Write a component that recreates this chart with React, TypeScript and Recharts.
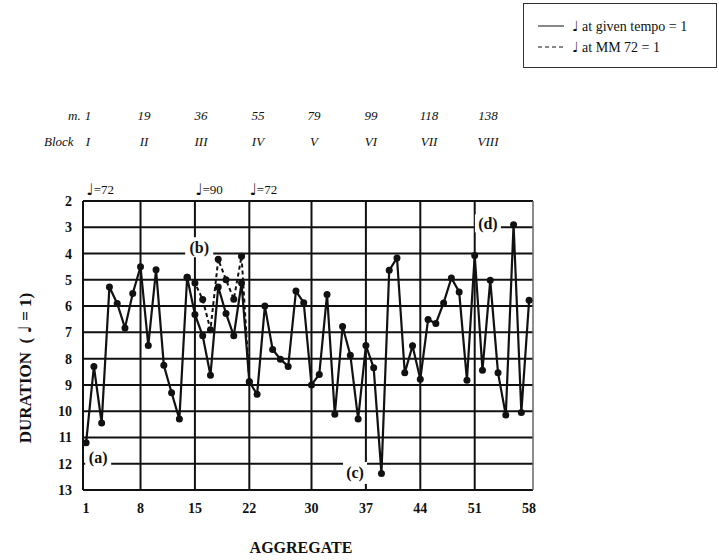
import { LineChart, Line, XAxis, YAxis, CartesianGrid, ReferenceLine, ReferenceDot } from 'recharts'

// duration of each aggregate, quarter note at the given tempo = 1
const givenTempo = [
  11.2, 8.3, 10.45, 5.27, 5.9, 6.83, 5.52, 4.5, 7.5, 4.62,
  8.25, 9.3, 10.3, 4.9, 6.32, 7.13, 8.63, 5.27, 6.28, 7.13,
  5.12, 8.88, 9.36, 6.0, 7.65, 8.02, 8.3, 5.43, 5.87, 9.0,
  8.6, 5.56, 10.12, 6.78, 7.87, 10.3, 7.5, 8.35, 12.37, 4.64,
  4.17, 8.54, 7.51, 8.78, 6.51, 6.66, 5.88, 4.93, 5.46, 8.82,
  4.07, 8.44, 5.02, 8.54, 10.15, 2.9, 10.05, 5.78,
]

// the quarter = 90 passage re-measured at MM 72 (aggregates 14..22)
const mm72From = 14
const mm72 = [4.9, 5.12, 5.75, 6.9, 4.22, 5.0, 5.74, 4.1, 8.88]

const xTicks = [1, 8, 15, 22, 30, 37, 44, 51, 58]
const yTicks = [2, 3, 4, 5, 6, 7, 8, 9, 10, 11, 12, 13]

const measures = ['1', '19', '36', '55', '79', '99', '118', '138']
const blocks = ['I', 'II', 'III', 'IV', 'V', 'VI', 'VII', 'VIII']

const tempi = [
  { at: 1, mark: '=72' },
  { at: 15, mark: '=90' },
  { at: 22, mark: '=72' },
]

const notes = [
  { text: '(a)', x: 2.55, y: 11.78, w: 26, h: 18 },
  { text: '(b)', x: 15.55, y: 3.76, w: 28, h: 20 },
  { text: '(c)', x: 35.6, y: 12.35, w: 24, h: 22 },
  { text: '(d)', x: 52.7, y: 2.85, w: 26, h: 18 },
]

const rows = givenTempo.map((v, i) => {
  const n = i + 1
  const k = n - mm72From
  return { n, given: v, mm72: k >= 0 && k < mm72.length ? mm72[k] : null }
})

const serif = "'Liberation Serif', 'DejaVu Serif', serif"
const headerX = [88, 144, 201, 258, 314, 371, 429, 488]
const ink = '#111'

const tag = (text: string, w: number, h: number) => (p: any) => (
  <g>
    <rect x={p.cx - w / 2} y={p.cy - h / 2} width={w} height={h} fill="#fff" />
    <text x={p.cx} y={p.cy} textAnchor="middle" dominantBaseline="central"
      fontFamily={serif} fontWeight="bold" fontSize={16} fill={ink}>{text}</text>
  </g>
)

const tempoMark = (mark: string) => (p: any) => (
  <text x={p.cx} y={p.cy} dominantBaseline="central" fontFamily={serif} fontSize={13} fill={ink}>
    <tspan fontFamily="'DejaVu Sans'" fontSize={16}>♩</tspan>{mark}
  </text>
)

const headerStyle = { position: 'absolute' as const, fontStyle: 'italic', fontSize: 13, color: ink }

export default function App() {
  return (
    <div style={{ position: 'absolute', left: 0, top: 0, width: 719, height: 560, background: '#fff', fontFamily: serif }}>
      <LineChart width={719} height={560} data={rows} margin={{ top: 201, right: 186, bottom: 40, left: 43 }}>
        <CartesianGrid vertical={false} stroke={ink} strokeWidth={2} />
        <XAxis dataKey="n" type="number" domain={[0.6, 58.5]} ticks={xTicks} allowDataOverflow
          axisLine={false} tickLine={false} tickSize={0} tickMargin={13} height={30}
          tick={{ fontFamily: serif, fontWeight: 'bold', fontSize: 14, fill: ink }} />
        <YAxis type="number" domain={[2, 13]} ticks={yTicks} reversed allowDataOverflow interval={0}
          width={40} axisLine={{ stroke: ink, strokeWidth: 2 }} tickLine={false} tickSize={0} tickMargin={11}
          tick={{ fontFamily: serif, fontWeight: 'bold', fontSize: 14, fill: ink }} />
        {xTicks.slice(1, -1).map((t) => (
          <ReferenceLine key={t} x={t} stroke={ink} strokeWidth={2} />
        ))}
        <ReferenceLine x={58.5} stroke="#666" strokeWidth={1.5} />
        {notes.map((a) => (
          <ReferenceDot key={a.text} x={a.x} y={a.y} r={1} shape={tag(a.text, a.w, a.h)} />
        ))}
        {tempi.map((t) => (
          <ReferenceDot key={t.at} x={t.at} y={1.56} r={1} ifOverflow="visible" shape={tempoMark(t.mark)} />
        ))}
        <Line dataKey="mm72" stroke={ink} strokeWidth={2} strokeDasharray="4 3" connectNulls={false}
          dot={{ r: 3.5, fill: ink, stroke: ink, strokeWidth: 0 }} isAnimationActive={false} />
        <Line dataKey="given" stroke={ink} strokeWidth={2.2}
          dot={{ r: 3.5, fill: ink, stroke: ink, strokeWidth: 0 }} isAnimationActive={false} />
      </LineChart>

      {/* legend */}
      <div style={{ position: 'absolute', left: 523, top: 3, width: 194, height: 65, border: '1px solid #333', boxSizing: 'border-box' }}>
        <svg width={192} height={63} style={{ position: 'absolute', left: 0, top: 0 }}>
          <line x1={14} x2={40} y1={22} y2={22} stroke={ink} strokeWidth={1} />
          <line x1={14} x2={40} y1={43} y2={43} stroke={ink} strokeWidth={1} strokeDasharray="4 3" />
          <text x={48} y={22} dominantBaseline="central" fontFamily={serif} fontSize={14} fill={ink}>
            <tspan fontFamily="'DejaVu Sans'">♩</tspan> at given tempo = 1
          </text>
          <text x={48} y={43} dominantBaseline="central" fontFamily={serif} fontSize={14} fill={ink}>
            <tspan fontFamily="'DejaVu Sans'">♩</tspan> at MM 72 = 1
          </text>
        </svg>
      </div>

      {/* measure / block header */}
      <div style={{ ...headerStyle, left: 68, top: 108 }}>m.</div>
      <div style={{ ...headerStyle, left: 44, top: 134 }}>Block</div>
      {measures.map((m, i) => (
        <div key={'m' + i} style={{ ...headerStyle, left: headerX[i], top: 108, transform: 'translateX(-50%)' }}>{m}</div>
      ))}
      {blocks.map((b, i) => (
        <div key={'b' + i} style={{ ...headerStyle, left: headerX[i], top: 134, transform: 'translateX(-50%)' }}>{b}</div>
      ))}

      {/* axis titles */}
      <div style={{ position: 'absolute', left: 25, top: 368, transform: 'translate(-50%, -50%) rotate(-90deg)', whiteSpace: 'nowrap', fontWeight: 'bold', fontSize: 17, color: ink }}>
        DURATION&nbsp;&nbsp;( <span style={{ fontFamily: "'DejaVu Sans'", fontSize: 18 }}>♩</span> = 1)
      </div>
      <div style={{ position: 'absolute', left: 301, top: 548, transform: 'translate(-50%, -50%)', whiteSpace: 'nowrap', fontWeight: 'bold', fontSize: 16, color: ink }}>
        AGGREGATE
      </div>
    </div>
  )
}
